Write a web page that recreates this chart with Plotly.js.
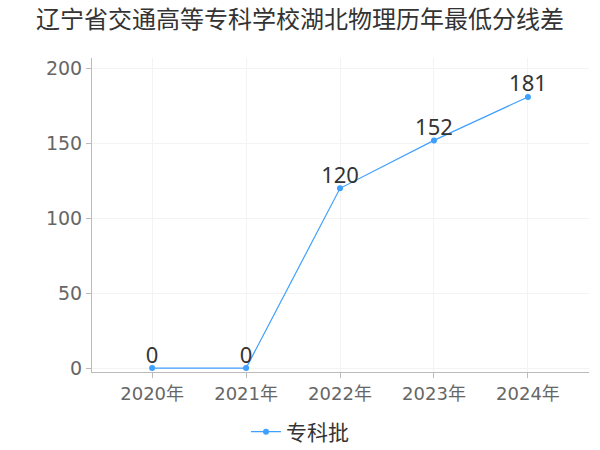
<!DOCTYPE html>
<html><head><meta charset="utf-8">
<script src="https://cdn.plot.ly/plotly-3.0.1.min.js"></script>
<style>body{margin:0}#c{width:600px;height:450px}</style>
</head><body><div id="c"></div>
<script>
const categories = ["2020年","2021年","2022年","2023年","2024年"];
const values = [0,0,120,152,181];
const seriesName = "专科批";
const yTicks = [0,50,100,150,200];
const FONT = '"DejaVu Sans", "Noto Sans CJK SC", sans-serif';
const CJK = '"Noto Sans CJK SC", sans-serif';
Plotly.newPlot('c', [{
  x: categories, y: values, name: seriesName, type: 'scatter', mode: 'lines+markers',
  line: {color: '#3fa0ff', width: 1.2}, marker: {color: '#3fa0ff', size: 6},
  cliponaxis: false
}, {
  x: categories, y: values, type: 'scatter', mode: 'text', showlegend: false, hoverinfo: 'skip',
  text: values.map(String), textposition: 'top center',
  textfont: {size: 22, color: '#333', family: '"Noto Sans", sans-serif'},
  cliponaxis: false
}], {
  width: 600, height: 450,
  margin: {l: 92, r: 11, t: 58, b: 78},
  paper_bgcolor: '#fff', plot_bgcolor: '#fff',
  title: {text: '辽宁省交通高等专科学校湖北物理历年最低分线差', x: 0.5, xanchor: 'center', y: 0.975, yanchor: 'top',
    font: {size: 24, color: '#333', family: CJK}},
  xaxis: {type: 'category', range: [-0.64, 4.65], showgrid: true, gridcolor: '#f3f3f3',
    showline: true, linecolor: '#bbb', ticks: 'outside', ticklen: 5, tickcolor: '#bbb',
    tickfont: {size: 18, color: '#666', family: FONT}, zeroline: false},
  yaxis: {range: [-2.6, 207], tickvals: yTicks, showgrid: true, gridcolor: '#f3f3f3',
    showline: true, linecolor: '#bbb', ticks: 'outside', ticklen: 5, tickcolor: '#bbb',
    tickfont: {size: 19, color: '#666', family: FONT}, zeroline: false},
  showlegend: true,
  legend: {orientation: 'h', x: 0.5, xanchor: 'center', xref: 'container', yref: 'container', y: 0.04, yanchor: 'middle',
    font: {size: 21, color: '#333', family: CJK}}
}, {displayModeBar: false});
</script></body></html>
